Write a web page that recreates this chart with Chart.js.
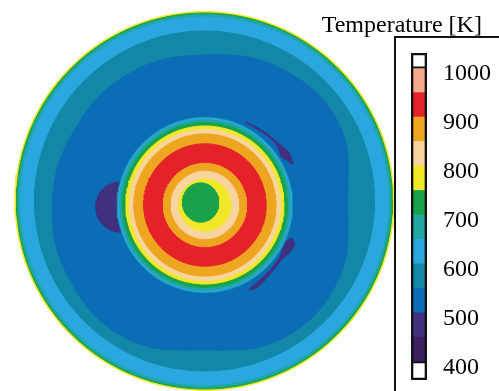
<!DOCTYPE html>
<html>
<head>
<meta charset="utf-8">
<script src="https://cdn.jsdelivr.net/npm/chart.js@4/dist/chart.umd.min.js"></script>
<style>
  html, body { margin: 0; padding: 0; background: #fff; }
  #wrap { position: relative; width: 499px; height: 391px; overflow: hidden; }
  #map { position: absolute; left: 0; top: 0; }
  #box { position: absolute; left: 394px; top: 36px; width: 200px; height: 420px;
         border: 2px solid #111; background: #fff; box-sizing: border-box; }
  #bar { position: absolute; left: 300px; top: 0; }
</style>
</head>
<body>
<div id="wrap">
  <canvas id="map" width="499" height="391"></canvas>
  <div id="box"></div>
  <canvas id="bar" width="199" height="391"></canvas>
</div>
<script>
// Temperature bands (K), 50 K each, with their fill colours
const levelEdges  = [400, 450, 500, 550, 600, 650, 700, 750, 800, 850, 900, 950, 1000];
const levelColors = ['#3b1f5e', '#40307f', '#0b6db6', '#1387a7', '#29a7de', '#1fa7a3',
                     '#1aa24b', '#f1e828', '#f8d49e', '#eea621', '#e42228', '#f5a98a'];
const tickValues  = [400, 500, 600, 700, 800, 900, 1000];
const barTitle    = 'Temperature [K]';

// Plate rim isotherms: band temperature and radius (mm) from the plate centre
const rimTemps = [775, 725, 675, 625, 575];
const rimRadii = [100, 99.2, 98.4, 97.1, 89.7];

// Boundary of the 525 K core, radius (mm) every 30 degrees counter-clockwise from +x
const coreAngles = [0, 30, 60, 90, 120, 150, 180, 210, 240, 270, 300, 330];
const coreRadii  = [75.5, 81.8, 80.7, 77.0, 78.1, 78.1, 80.2, 82.3, 83.4, 78.6, 83.4, 81.8];

// Hot spot: centre (mm) and its isotherms from the outside in
const hotCentre = [0.26, -2.11];
const hotTemps  = [575, 625, 675, 725, 775, 825, 875, 925, 875, 825, 775];
const hotRadii  = [46.4, 45.9, 44.9, 43.5, 41.7, 39.8, 37.5, 32.3, 22.0, 17.8, 13.7];

// Central 725 K pocket
const pocketTemp   = 725;
const pocketCentre = [-2.0, -0.8];
const pocketRadii  = [9.6, 10.4];

// 475 K pockets next to the hot spot
const coldSpotTemp   = 475;
const coldSpotCentre = [-44.6, -3.2];
const coldSpotRadii  = [12.7, 13.2];
// streaks: [angle deg about hot centre, inner radius mm, outer radius mm]
const upperStreak = [[64, 48.4, 48.9], [58, 48.4, 49.3], [50, 48.9, 49.9], [43, 49.3, 50.4],
                     [37, 48.6, 51.2], [32, 47.6, 52.3], [28, 49.6, 52.0], [25, 50.6, 51.4]];
const lowerStreak = [[-21, 48.6, 50.0], [-24, 47.0, 51.8], [-29, 47.0, 51.4], [-35, 48.0, 49.8],
                     [-43, 48.4, 49.9], [-51, 48.8, 50.8], [-57, 49.3, 51.6], [-62, 50.0, 51.0]];

// Colour bar extents (K) including the white end cells
const barMin = 362.5, barMax = 1031;

// ---- geometry helpers ----
const DEG = Math.PI / 180;
function bandColor(T) {
  for (let i = 0; i < levelColors.length; i++) {
    if (T >= levelEdges[i] && T < levelEdges[i + 1]) return levelColors[i];
  }
  return '#ffffff';
}
function ellipsePts(c, rx, ry) {
  const pts = [];
  for (let a = 0; a <= 360; a += 2) {
    pts.push({ x: c[0] + rx * Math.cos(a * DEG), y: c[1] + ry * Math.sin(a * DEG) });
  }
  return pts;
}
function polarLoopPts(c, angles, radii) {
  // one lap plus a sample either side so the spline closes smoothly
  const pts = [];
  const n = angles.length;
  for (let k = -1; k <= n + 1; k++) {
    const i = (k + n) % n;
    const a = angles[i] + 360 * Math.floor(k / n);
    pts.push({ x: c[0] + radii[i] * Math.cos(a * DEG), y: c[1] + radii[i] * Math.sin(a * DEG) });
  }
  return pts;
}
function streakPts(c, rows) {
  const outer = rows.map(([a, , ro]) => ({ x: c[0] + ro * Math.cos(a * DEG), y: c[1] + ro * Math.sin(a * DEG) }));
  const inner = rows.slice().reverse().map(([a, ri]) => ({ x: c[0] + ri * Math.cos(a * DEG), y: c[1] + ri * Math.sin(a * DEG) }));
  const pts = outer.concat(inner);
  pts.push(pts[0]);
  return pts;
}
function region(points, T, tension, edge) {
  const col = bandColor(T);
  return {
    data: points, showLine: true, fill: 'shape', tension: tension || 0,
    backgroundColor: col, borderColor: col, borderWidth: edge === undefined ? 1 : edge,
    pointRadius: 0, pointHoverRadius: 0
  };
}

// ---- painting order, bottom first ----
const layers = [];
rimTemps.forEach((T, i) => layers.push(region(ellipsePts([0, 0], rimRadii[i], rimRadii[i]), T)));
layers.push(region(polarLoopPts([0, 0], coreAngles, coreRadii), 525, 0.4));
layers.push(region(ellipsePts(coldSpotCentre, coldSpotRadii[0], coldSpotRadii[1]), coldSpotTemp));
layers.push(region(streakPts(hotCentre, upperStreak), coldSpotTemp, 0.2, 0.5));
layers.push(region(streakPts(hotCentre, lowerStreak), coldSpotTemp, 0.2, 0.5));
hotTemps.forEach((T, i) => layers.push(region(ellipsePts(hotCentre, hotRadii[i], hotRadii[i]), T)));
layers.push(region(ellipsePts(pocketCentre, pocketRadii[0], pocketRadii[1]), pocketTemp));

// Chart.js draws the first dataset on top
const mapDatasets = layers.slice().reverse();

// plate centre on the canvas and mm-to-pixel scale
const W = 499, H = 391, cx = 204.5, cy = 201, pxPerMm = 1.895;

new Chart(document.getElementById('map'), {
  type: 'scatter',
  data: { datasets: mapDatasets },
  options: {
    responsive: false, animation: false, devicePixelRatio: 1,
    layout: { padding: 0 },
    plugins: { legend: { display: false }, tooltip: { enabled: false } },
    events: [],
    scales: {
      x: { type: 'linear', display: false, min: -cx / pxPerMm, max: (W - cx) / pxPerMm },
      y: { type: 'linear', display: false, min: -(H - cy) / pxPerMm, max: cy / pxPerMm }
    }
  }
});

// ---- colour bar with its title ----
const barDatasets = [
  { data: [[barMin, barMax]], backgroundColor: 'rgba(0,0,0,0)', borderColor: '#111', borderWidth: 2, order: 0 },
  { data: [[levelEdges[levelEdges.length - 1], barMax]], backgroundColor: '#fff', borderColor: '#111', borderWidth: 2, order: 1 },
  { data: [[barMin, levelEdges[0]]], backgroundColor: '#fff', borderColor: '#111', borderWidth: 2, order: 1 }
];
levelColors.forEach((col, i) => {
  barDatasets.push({ data: [[levelEdges[i], levelEdges[i + 1]]], backgroundColor: col, borderWidth: 0, order: 2 });
});

const serifFamily = "'Liberation Serif', 'Times New Roman', serif";
const serif = { family: serifFamily, size: 24 };

// colour-bar heading, set left of the bar box
const headingPlugin = {
  id: 'barHeading',
  afterDraw(chart) {
    const ctx = chart.ctx;
    ctx.save();
    ctx.font = '24px ' + serifFamily;
    ctx.fillStyle = '#000';
    ctx.textAlign = 'left';
    ctx.textBaseline = 'alphabetic';
    ctx.fillText(barTitle, 21.7, 31.7);
    ctx.restore();
  }
};

new Chart(document.getElementById('bar'), {
  type: 'bar',
  data: { labels: [''], datasets: barDatasets },
  plugins: [headingPlugin],
  options: {
    responsive: false, animation: false, devicePixelRatio: 1,
    layout: { padding: { left: 111, top: 53, bottom: 11, right: 0 } },
    datasets: { bar: { grouped: false, barThickness: 16, borderSkipped: false } },
    plugins: { legend: { display: false }, tooltip: { enabled: false } },
    events: [],
    scales: {
      x: { display: false },
      y: {
        position: 'right', min: barMin, max: barMax,
        grid: { display: false, drawTicks: false }, border: { display: false },
        afterFit(s) { s.width = 72; s.paddingTop = 0; s.paddingBottom = 0; },
        afterBuildTicks(s) { s.ticks = tickValues.map(v => ({ value: v })); },
        ticks: { padding: 16, labelOffset: 6, color: '#000', font: serif, callback: v => String(v) }
      }
    }
  }
});
</script>
</body>
</html>
